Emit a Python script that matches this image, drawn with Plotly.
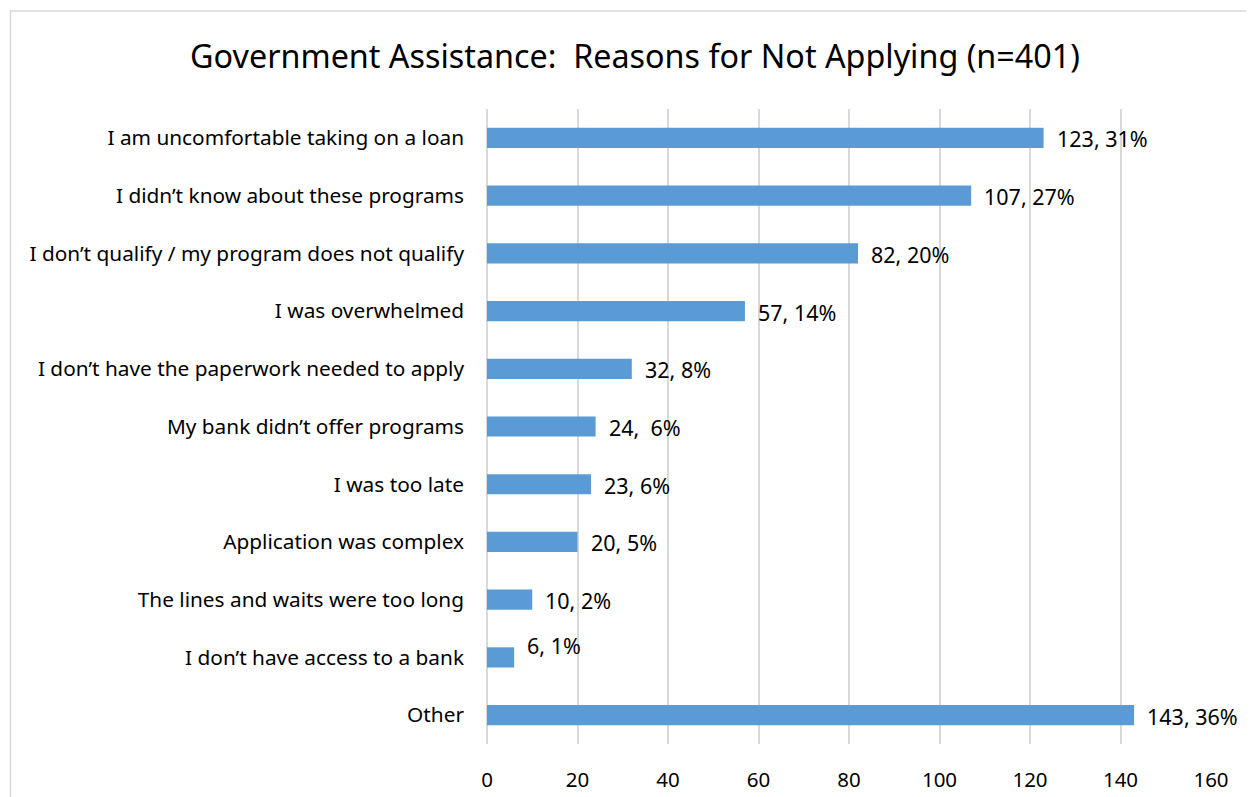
import plotly.graph_objects as go

categories = [
    "I am uncomfortable taking on a loan",
    "I didn’t know about these programs",
    "I don’t qualify / my program does not qualify",
    "I was overwhelmed",
    "I don’t have the paperwork needed to apply",
    "My bank didn’t offer programs",
    "I was too late",
    "Application was complex",
    "The lines and waits were too long",
    "I don’t have access to a bank",
    "Other",
]
counts = [123, 107, 82, 57, 32, 24, 23, 20, 10, 6, 143]
labels = ["123, 31%", "107, 27%", "82, 20%", "57, 14%", "32, 8%", "24,  6%",
          "23, 6%", "20, 5%", "10, 2%", "6, 1%", "143, 36%"]
x_ticks = [0, 20, 40, 60, 80, 100, 120, 140, 160]

FONT = "Noto Sans"
OFF = 8  # page body margin
W, H = 1254 - OFF, 797 - OFF
L, R, T, B = 487 - OFF, 43, 109 - OFF, 53
pw, ph = W - L - R, H - T - B

fig = go.Figure()
fig.add_trace(go.Bar(
    x=counts, y=categories, orientation="h",
    marker=dict(color="#5B9BD5", line=dict(width=0)),
    width=0.35, hoverinfo="x+y",
))

label_yshift = {"I don’t have access to a bank": 13}
for c, v, t in zip(categories, counts, labels):
    fig.add_annotation(x=v, y=c, text=t, showarrow=False, xanchor="left",
                       xshift=11, yshift=label_yshift.get(c, 0) - 1,
                       font=dict(family=FONT, size=21.5, color="#000000"))

def px_x(p):
    return (p - OFF - L) / pw

def px_y(p):
    return (H - B - (p - OFF)) / ph

fig.add_shape(type="rect", xref="paper", yref="paper",
              x0=px_x(10.5), x1=px_x(1270), y0=px_y(11), y1=px_y(815),
              line=dict(color="#D9D9D9", width=1.5), fillcolor="rgba(0,0,0,0)",
              layer="below")

fig.update_layout(
    width=W, height=H,
    margin=dict(l=L, r=R, t=T, b=B),
    paper_bgcolor="white", plot_bgcolor="white",
    showlegend=False,
    title=dict(text="Government Assistance:  Reasons for Not Applying (n=401)",
               x=(635 - OFF) / W, xanchor="center", xref="container",
               y=1 - (57 - OFF) / H, yanchor="middle", yref="container",
               font=dict(family=FONT, size=32.3, color="#000000")),
    xaxis=dict(range=[0, 160], tickvals=x_ticks, showgrid=True,
               gridcolor="#D9D9D9", gridwidth=1.5, zeroline=True,
               zerolinecolor="#D9D9D9", zerolinewidth=1.5,
               showline=False, ticks="", ticklabelstandoff=21,
               automargin=False,
               tickfont=dict(family=FONT, size=20.5, color="#000000"),
               fixedrange=True),
    yaxis=dict(categoryorder="array", categoryarray=categories,
               autorange="reversed", showgrid=False, zeroline=False,
               showline=False, ticks="", ticklabelstandoff=22,
               automargin=False,
               tickfont=dict(family=FONT, size=20.8, color="#000000"),
               fixedrange=True),
)

fig.write_html("out.html")
